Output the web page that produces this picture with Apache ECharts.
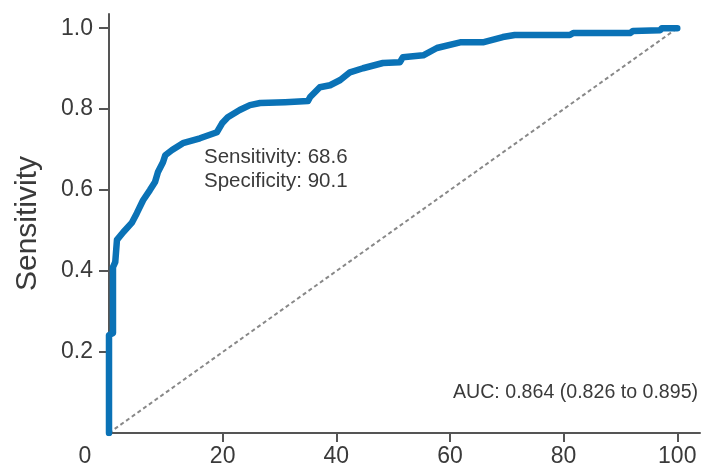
<!DOCTYPE html>
<html>
<head>
<meta charset="utf-8">
<title>ROC</title>
<script src="https://cdn.jsdelivr.net/npm/echarts@6/dist/echarts.min.js"></script>
<style>
  html, body { margin: 0; padding: 0; background: #fff; }
  #chart { width: 708px; height: 473px; }
</style>
</head>
<body>
<div id="chart"></div>
<script>
// ROC curve points (1 - specificity in %, sensitivity)
const fpr = [0, 0, 0.7, 0.7, 1.1, 1.4, 2.5, 4.0, 4.9, 6.0, 7.2, 8.1, 8.6, 9.5, 9.9, 11.1, 13.0, 16.0, 19.0, 19.9,
  20.9, 23.0, 24.8, 26.6, 31.0, 35.0, 35.4, 37.1, 38.9, 40.7, 42.4, 44.7, 48.2, 51.2, 51.7, 55.3, 57.7, 61.8,
  65.8, 69.3, 71.4, 81.1, 81.7, 91.7, 92.2, 97.0, 97.3, 100];
const sens = [0, 0.242, 0.247, 0.41, 0.422, 0.477, 0.496, 0.519, 0.543, 0.575, 0.6, 0.62, 0.644, 0.669, 0.686,
  0.699, 0.716, 0.728, 0.743, 0.765, 0.78, 0.798, 0.81, 0.815, 0.817, 0.82, 0.83, 0.854, 0.859, 0.872, 0.891,
  0.901, 0.914, 0.916, 0.928, 0.933, 0.951, 0.965, 0.965, 0.978, 0.983, 0.983, 0.988, 0.988, 0.993, 0.995, 1.0, 1.0];
// reference line
const chanceX = [0, 100];
const chanceY = [0, 1];
// tick labels
const xTicks = [0, 20, 40, 60, 80, 100];
const xTickMarks = [20, 40, 60, 80, 100];
const yTicks = [0.2, 0.4, 0.6, 0.8, 1.0];

const font = 'Liberation Sans, Arial, sans-serif';
const axisColor = '#555';
const textColor = '#3a3a3a';

const chart = echarts.init(document.getElementById('chart'));
chart.setOption({
  animation: false,
  grid: { left: 109, right: 8, top: 14, bottom: 40 },
  xAxis: {
    type: 'value',
    min: 0,
    max: 104,
    splitLine: { show: false },
    axisLine: { lineStyle: { color: axisColor, width: 2 } },
    axisTick: { customValues: xTickMarks, length: 9, lineStyle: { color: axisColor, width: 2 } },
    axisLabel: {
      customValues: xTicks,
      margin: 12,
      color: textColor,
      fontSize: 23,
      fontFamily: font,
      // the 0 label sits left of the origin
      formatter: v => v === 0 ? '{o|0}' : String(v),
      rich: { o: { fontSize: 23, fontFamily: font, color: textColor, padding: [0, 48, 0, 0] } }
    }
  },
  yAxis: {
    type: 'value',
    min: 0,
    max: 1.035,
    name: 'Sensitivity',
    nameLocation: 'middle',
    nameGap: 66,
    nameTextStyle: { fontSize: 30, color: textColor, fontFamily: font },
    splitLine: { show: false },
    axisLine: { show: true, lineStyle: { color: axisColor, width: 2 } },
    axisTick: { show: true, customValues: yTicks, length: 10, lineStyle: { color: axisColor, width: 2 } },
    axisLabel: {
      customValues: yTicks,
      margin: 16,
      color: textColor,
      fontSize: 23,
      fontFamily: font,
      formatter: v => v.toFixed(1)
    }
  },
  series: [
    {
      type: 'line',
      data: chanceX.map((x, i) => [x, chanceY[i]]),
      symbol: 'none',
      lineStyle: { color: '#888', width: 2, type: [4, 3] },
      z: 1
    },
    {
      type: 'line',
      data: fpr.map((x, i) => [x, sens[i]]),
      symbol: 'none',
      lineStyle: { color: '#0a72b6', width: 6.5, join: 'round', cap: 'round' },
      z: 2
    }
  ],
  graphic: [
    { type: 'text', left: 204, top: 147, style: { text: 'Sensitivity: 68.6', fontSize: 20.5, fontFamily: font, fill: textColor } },
    { type: 'text', left: 204, top: 171, style: { text: 'Specificity: 90.1', fontSize: 20.5, fontFamily: font, fill: textColor } },
    { type: 'text', left: 453, top: 383, style: { text: 'AUC: 0.864 (0.826 to 0.895)', fontSize: 19.6, fontFamily: font, fill: textColor } }
  ]
});
</script>
</body>
</html>
